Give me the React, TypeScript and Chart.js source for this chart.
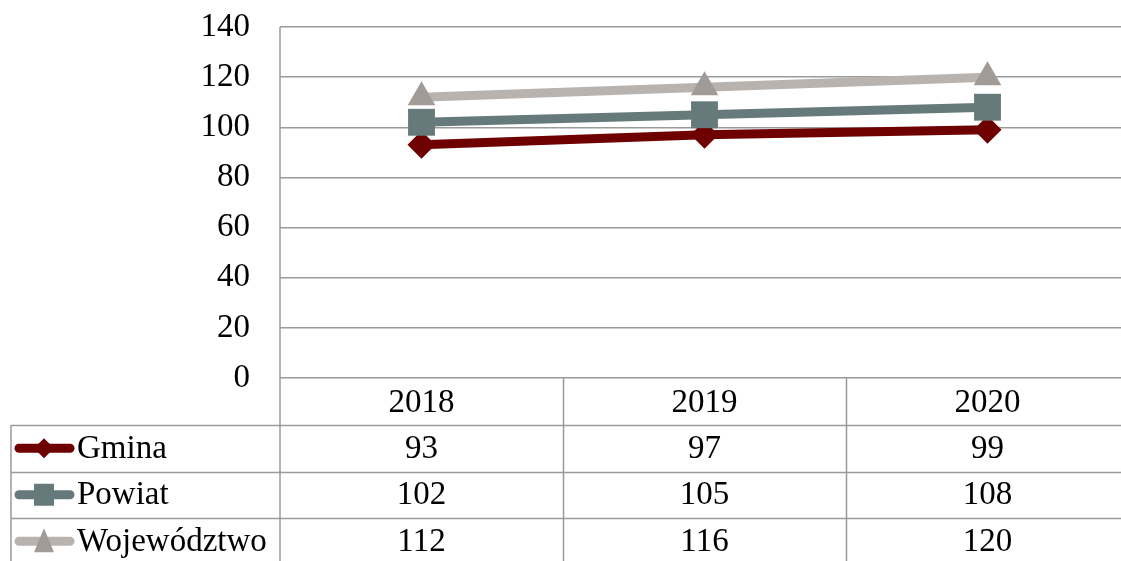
import React, { useEffect, useRef } from "react";
import { Chart, registerables } from "chart.js";

Chart.register(...registerables);

const categories = ["2018", "2019", "2020"];
const gmina = [93, 97, 99];
const powiat = [102, 105, 108];
const wojewodztwo = [112, 116, 120];
const seriesNames = ["Gmina", "Powiat", "Województwo"];
const yTicks = [0, 20, 40, 60, 80, 100, 120, 140];

const FONT = "'Liberation Serif', 'Times New Roman', serif";
const FONT_SIZE = 33;
const GRID = "#9a9a9a";

const lineColors = ["#6e0000", "#677a7b", "#b9b3b0"];
const markerColors = ["#6e0000", "#677a7b", "#a19b98"];
const markerStyles = ["rectRot", "rect", "triangle"];
const markerRadius = [14, 19, 16];
const drawOrder = [1, 0, 2];

const PLOT_LEFT = 280;
const PLOT_RIGHT = 1129;
const PLOT_TOP = 27;
const PLOT_BOTTOM = 378;

const tablePlugin = {
  id: "dataTable",
  afterDraw(chart: any) {
    const ctx = chart.ctx;
    const ca = chart.chartArea;
    const xs = chart.scales.x;
    const H = chart.height;
    const W = chart.width;
    const n = categories.length;
    const colW = (ca.right - ca.left) / n;
    const rowTop = ca.bottom;
    const headerH = 47;
    const rowH = 46.5;
    const tableLeft = 11;
    ctx.save();
    ctx.strokeStyle = GRID;
    ctx.lineWidth = 1.5;
    ctx.beginPath();
    ctx.moveTo(ca.left, ca.top);
    ctx.lineTo(ca.left, H);
    for (let i = 1; i < n; i++) {
      const x = Math.round(ca.left + colW * i) + 0.5;
      ctx.moveTo(x, rowTop);
      ctx.lineTo(x, H);
    }
    ctx.moveTo(tableLeft, rowTop + headerH);
    ctx.lineTo(tableLeft, H);
    for (let r = 0; r < 3; r++) {
      const y = Math.round(rowTop + headerH + rowH * r) + 0.5;
      ctx.moveTo(tableLeft, y);
      ctx.lineTo(W, y);
    }
    ctx.stroke();

    ctx.fillStyle = "#000";
    ctx.font = `${FONT_SIZE}px ${FONT}`;
    ctx.textAlign = "center";
    ctx.textBaseline = "middle";
    categories.forEach((c, i) => {
      ctx.fillText(c, xs.getPixelForValue(i), rowTop + headerH / 2 + 2);
    });
    const all = [gmina, powiat, wojewodztwo];
    all.forEach((vals, r) => {
      const cy = rowTop + headerH + rowH * r + rowH / 2 + 1;
      vals.forEach((v, i) => {
        ctx.textAlign = "center";
        ctx.fillText(String(v), xs.getPixelForValue(i), cy);
      });
      ctx.strokeStyle = lineColors[r];
      ctx.lineWidth = 9;
      ctx.lineCap = "round";
      ctx.beginPath();
      ctx.moveTo(19, cy - 1);
      ctx.lineTo(70, cy - 1);
      ctx.stroke();
      ctx.fillStyle = markerColors[r];
      const mx = 44;
      const my = cy - 1;
      ctx.beginPath();
      if (r === 0) {
        ctx.moveTo(mx, my - 10);
        ctx.lineTo(mx + 10, my);
        ctx.lineTo(mx, my + 10);
        ctx.lineTo(mx - 10, my);
      } else if (r === 1) {
        ctx.rect(mx - 10, my - 11, 20, 22);
      } else {
        ctx.moveTo(mx, my - 13);
        ctx.lineTo(mx + 10, my + 11);
        ctx.lineTo(mx - 10, my + 11);
      }
      ctx.closePath();
      ctx.fill();
      ctx.fillStyle = "#000";
      ctx.textAlign = "left";
      ctx.fillText(seriesNames[r], 77, cy);
    });
    ctx.restore();
  },
};

export default function App() {
  const ref = useRef<HTMLCanvasElement>(null);
  useEffect(() => {
    const data = [gmina, powiat, wojewodztwo];
    const chart = new Chart(ref.current!, {
      type: "line",
      data: {
        labels: categories,
        datasets: data.map((d, i) => ({
          label: seriesNames[i],
          data: d,
          order: drawOrder[i],
          borderColor: lineColors[i],
          backgroundColor: markerColors[i],
          borderWidth: 9,
          pointStyle: markerStyles[i] as any,
          pointRadius: markerRadius[i],
          pointBackgroundColor: markerColors[i],
          pointBorderWidth: 0,
          tension: 0,
          fill: false,
        })),
      },
      options: {
        animation: false,
        responsive: false,
        maintainAspectRatio: false,
        layout: { autoPadding: false, padding: { top: 0, right: 0, bottom: 0, left: 0 } },
        plugins: { legend: { display: false }, tooltip: { enabled: false } },
        scales: {
          x: {
            display: false,
            offset: true,
          },
          y: {
            min: 0,
            max: 140,
            afterBuildTicks: (s: any) => {
              s.ticks = yTicks.map((v) => ({ value: v }));
            },
            afterFit: (s: any) => {
              s.width = PLOT_LEFT;
            },
            grid: { color: GRID, lineWidth: 1.5, drawTicks: false },
            border: { display: false },
            ticks: {
              padding: 30,
              color: "#000",
              font: { family: FONT, size: FONT_SIZE },
            },
          },
        },
      },
      plugins: [
        {
          id: "fixArea",
          afterLayout(chart: any) {
            const ca = chart.chartArea;
            ca.top = PLOT_TOP;
            ca.bottom = PLOT_BOTTOM;
            ca.left = PLOT_LEFT;
            ca.right = PLOT_RIGHT;
            ca.width = PLOT_RIGHT - PLOT_LEFT;
            ca.height = PLOT_BOTTOM - PLOT_TOP;
            const y = chart.scales.y;
            y.top = PLOT_TOP;
            y.bottom = PLOT_BOTTOM;
            y.height = PLOT_BOTTOM - PLOT_TOP;
            y.right = PLOT_LEFT;
            y.left = 0;
            y.configure();
            const x = chart.scales.x;
            x.left = PLOT_LEFT;
            x.right = PLOT_RIGHT;
            x.width = PLOT_RIGHT - PLOT_LEFT;
            x.top = PLOT_BOTTOM;
            x.bottom = PLOT_BOTTOM;
            x.configure();
          },
        },
        tablePlugin,
      ],
    });
    return () => chart.destroy();
  }, []);
  return (
    <div style={{ position: "absolute", left: 0, top: 0, width: 1121, height: 561, background: "#fff" }}>
      <canvas ref={ref} width={1121} height={561} style={{ display: "block" }} />
    </div>
  );
}
